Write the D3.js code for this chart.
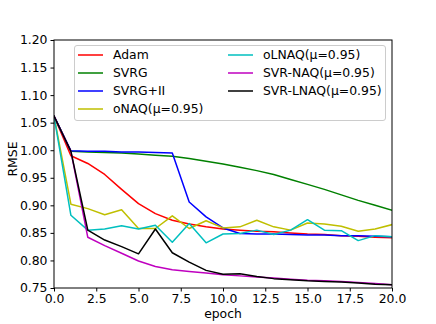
<!DOCTYPE html>
<html><head><meta charset="utf-8">
<script src="https://cdn.jsdelivr.net/npm/d3@7"></script>
<style>body{margin:0;background:#fff}svg{display:block}</style>
</head><body>
<svg id="c" width="436" height="324"></svg>
<script>
const epochs = d3.range(0, 21);
const seriesNames = ["Adam","SVRG","SVRG+II","oNAQ(μ=0.95)","oLNAQ(μ=0.95)","SVR-NAQ(μ=0.95)","SVR-LNAQ(μ=0.95)"];
const seriesColors = ["#ff0000","#008000","#0000ff","#bfbf00","#00bfbf","#bf00bf","#000000"];
const adam    = [1.062,0.990,0.976,0.956,0.929,0.903,0.885,0.873,0.866,0.861,0.857,0.855,0.853,0.852,0.850,0.848,0.847,0.845,0.844,0.842,0.841];
const svrg    = [1.062,0.998,0.997,0.996,0.995,0.993,0.991,0.989,0.985,0.980,0.975,0.969,0.963,0.956,0.947,0.938,0.929,0.919,0.909,0.900,0.891];
const svrg2   = [1.062,0.999,0.998,0.998,0.997,0.997,0.996,0.995,0.906,0.879,0.859,0.849,0.848,0.848,0.847,0.846,0.846,0.845,0.845,0.844,0.843];
const onaq    = [1.062,0.902,0.894,0.883,0.892,0.858,0.858,0.881,0.858,0.872,0.859,0.861,0.873,0.861,0.855,0.868,0.866,0.862,0.853,0.857,0.865];
const olnaq   = [1.062,0.882,0.855,0.857,0.863,0.857,0.864,0.833,0.867,0.832,0.848,0.849,0.855,0.847,0.855,0.874,0.855,0.854,0.836,0.845,0.843];
const svrnaq  = [1.062,0.998,0.842,0.827,0.813,0.799,0.789,0.783,0.780,0.777,0.774,0.772,0.770,0.768,0.766,0.764,0.763,0.762,0.760,0.758,0.756];
const svrlnaq = [1.062,0.998,0.855,0.837,0.825,0.812,0.857,0.814,0.797,0.782,0.775,0.776,0.771,0.767,0.765,0.763,0.762,0.761,0.759,0.757,0.756];
const xTicks = [0,2.5,5,7.5,10,12.5,15,17.5,20];
const yTicks = [0.75,0.80,0.85,0.90,0.95,1.00,1.05,1.10,1.15,1.20];
const allSeries = [adam, svrg, svrg2, onaq, olnaq, svrnaq, svrlnaq];

const L = 54, R = 392, T = 40, B = 288;
const FS = 12.4;
const svg = d3.select("#c");
const font = "'DejaVu Sans', sans-serif";
const x = d3.scaleLinear().domain([0,20]).range([L,R]);
const y = d3.scaleLinear().domain([0.75,1.20]).range([B,T]);

svg.append("clipPath").attr("id","clip").append("rect")
  .attr("x",L).attr("y",T).attr("width",R-L).attr("height",B-T);

const line = d3.line().x((d,i)=>x(epochs[i])).y(d=>y(d));
const g = svg.append("g").attr("clip-path","url(#clip)");
allSeries.forEach((s,i)=>{
  g.append("path").datum(s).attr("d",line).attr("fill","none")
    .attr("stroke",seriesColors[i]).attr("stroke-width",1.5)
    .attr("stroke-linejoin","round").attr("stroke-linecap","square");
});

svg.append("rect").attr("x",L).attr("y",T).attr("width",R-L).attr("height",B-T)
  .attr("fill","none").attr("stroke","#000").attr("stroke-width",1);

const xAxis = svg.append("g").attr("transform",`translate(0,${B})`)
  .call(d3.axisBottom(x).tickValues(xTicks).tickFormat(d3.format(".1f")).tickSize(3.5).tickPadding(3));
const yAxis = svg.append("g").attr("transform",`translate(${L},0)`)
  .call(d3.axisLeft(y).tickValues(yTicks).tickFormat(d3.format(".2f")).tickSize(3.5).tickPadding(3));
[xAxis,yAxis].forEach(a=>{
  a.select(".domain").remove();
  a.selectAll("line").attr("stroke","#000");
  a.selectAll("text").attr("font-family",font).attr("font-size",FS).attr("fill","#000");
});

svg.append("text").attr("x",(L+R)/2).attr("y",318).attr("text-anchor","middle")
  .attr("font-family",font).attr("font-size",FS).text("epoch");
svg.append("text").attr("transform",`translate(17,159) rotate(-90)`).attr("text-anchor","middle")
  .attr("font-family",font).attr("font-size",FS).text("RMSE");

const lg = svg.append("g");
lg.append("rect").attr("x",74.5).attr("y",45.5).attr("width",311).attr("height",75).attr("rx",2.5)
  .attr("fill","#fff").attr("fill-opacity",0.8).attr("stroke","#cccccc").attr("stroke-width",1);
seriesNames.forEach((n,i)=>{
  const col = i<4?0:1, row = i<4?i:i-4;
  const lx = col===0?78:228, ty = 55 + row*18;
  lg.append("line").attr("x1",lx).attr("x2",lx+25).attr("y1",ty).attr("y2",ty)
    .attr("stroke",seriesColors[i]).attr("stroke-width",1.5);
  lg.append("text").attr("x",lx+35).attr("y",ty).attr("dy","0.35em")
    .attr("font-family",font).attr("font-size",FS).text(n);
});
</script>
</body></html>
